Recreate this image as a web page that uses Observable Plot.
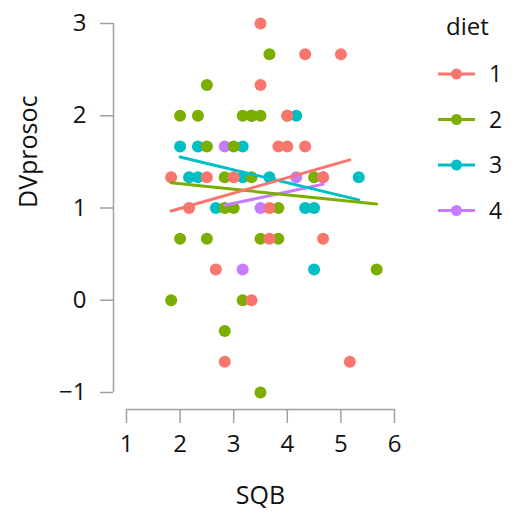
<!DOCTYPE html>
<html><head><meta charset="utf-8">
<script src="https://cdn.jsdelivr.net/npm/d3@7"></script>
<script src="https://cdn.jsdelivr.net/npm/@observablehq/plot@0.6"></script>
<style>
body{margin:0;background:#fff;}
#wrap{position:relative;width:516px;height:515px;font-family:"Open Sans",sans-serif;}
#legend{position:absolute;left:0;top:0;pointer-events:none;}
</style></head><body><div id="wrap"></div>
<script>
// ---- data ----
const diets = ["1", "2", "3", "4"];
const dietColors = ["#F8766D", "#7CAE00", "#00BFC4", "#C77CFF"];

const sqb1 = [3.5, 3.5, 4.333, 5, 4, 3.833, 4, 4.333, 1.833, 2.5, 3, 4.667, 2.167, 3.667, 3.667, 4.667, 2.667, 3.333, 2.833, 5.167];
const dv1  = [3, 2.333, 2.667, 2.667, 2, 1.667, 1.667, 1.667, 1.333, 1.333, 1.333, 1.333, 1, 1, 0.667, 0.667, 0.333, 0, -0.667, -0.667];

const sqb2 = [3.667, 2.5, 2, 2.333, 3.167, 3.333, 3.5, 2.5, 3, 2.833, 3.333, 4.5, 2.833, 3, 3.833, 2, 2.5, 3.5, 3.833, 5.667, 1.833, 3.167, 2.833, 3.5, 4, 3.333];
const dv2  = [2.667, 2.333, 2, 2, 2, 2, 2, 1.667, 1.667, 1.333, 1.333, 1.333, 1, 1, 1, 0.667, 0.667, 0.667, 0.667, 0.333, 0, 0, -0.333, -1, 2, 2];

const sqb3 = [4.167, 2, 2.333, 3.167, 2.167, 2.333, 3.167, 3.667, 5.333, 2.667, 4.333, 4.5, 4.5, 3.333];
const dv3  = [2, 1.667, 1.667, 1.667, 1.333, 1.333, 1.333, 1.333, 1.333, 1, 1, 1, 0.333, 2];

const sqb4 = [2.833, 3.167, 3.5, 4.167, 4.667];
const dv4  = [1.667, 0.333, 1, 1.333, 1.333];

const xTicks = [1, 2, 3, 4, 5, 6];
const yTicks = [-1, 0, 1, 2, 3];
const xLabel = "SQB";
const yLabel = "DVprosoc";
const legendTitle = "diet";

// ---- build table ----
const series = [[sqb1, dv1], [sqb2, dv2], [sqb3, dv3], [sqb4, dv4]];
const data = [];
[3, 2, 1, 0].forEach(i => series[i][0].forEach((x, j) =>
  data.push({SQB: x, DVprosoc: series[i][1][j], diet: diets[i]})));

const axisGrey = "#a0a0a0";
const fmt = d => d < 0 ? "\u2212" + Math.abs(d) : String(d);
const xMid = (xTicks[0] + xTicks[xTicks.length - 1]) / 2;
const yMid = (yTicks[0] + yTicks[yTicks.length - 1]) / 2;

const plot = Plot.plot({
  width: 516, height: 515,
  marginLeft: 113, marginRight: 122, marginTop: 23, marginBottom: 106,
  x: {domain: [xTicks[0], xTicks[xTicks.length - 1]], insetLeft: 13},
  y: {domain: [yTicks[0], yTicks[yTicks.length - 1]], insetBottom: 17},
  color: {domain: diets, range: dietColors},
  style: {fontFamily: "'Open Sans', sans-serif", fontSize: "24px", color: "#111", background: "white", overflow: "visible"},
  marks: [
    Plot.ruleY([yTicks[0]], {x1: xTicks[0], x2: xTicks[xTicks.length - 1], dy: 17, stroke: axisGrey, strokeWidth: 1.5}),
    Plot.ruleX([xTicks[0]], {y1: yTicks[0], y2: yTicks[yTicks.length - 1], dx: -13, stroke: axisGrey, strokeWidth: 1.5}),
    Plot.axisX({ticks: xTicks, tickSize: 14, tickPadding: 11, stroke: axisGrey, strokeWidth: 1.5, label: null, fill: "#111", tickFormat: fmt}),
    Plot.axisY({ticks: yTicks, tickSize: 13, tickPadding: 14, stroke: axisGrey, strokeWidth: 1.5, label: null, fill: "#111", tickFormat: fmt}),
    Plot.dot(data, {x: "SQB", y: "DVprosoc", fill: "diet", r: 6}),
    Plot.linearRegressionY(data, {x: "SQB", y: "DVprosoc", stroke: "diet", ci: 0, strokeWidth: 3}),
    Plot.text([xLabel], {x: xMid, frameAnchor: "bottom", dy: 86, lineAnchor: "middle", fill: "#111", fontSize: 25}),
    Plot.text([yLabel], {y: yMid, frameAnchor: "left", dx: -85, rotate: -90, lineAnchor: "middle", fill: "#111", fontSize: 25})
  ]
});
const wrap = document.getElementById("wrap");
wrap.appendChild(plot);

// ---- legend ----
const lg = d3.select(wrap).append("svg").attr("id", "legend").attr("width", 516).attr("height", 515)
  .style("font-family", "'Open Sans', sans-serif");
lg.append("text").attr("x", 446).attr("y", 35).attr("font-size", 24).attr("fill", "#111").text(legendTitle);
diets.forEach((d, i) => {
  const cy = 74 + i * 45.5;
  const g = lg.append("g");
  g.append("line").attr("x1", 438).attr("x2", 475).attr("y1", cy).attr("y2", cy)
    .attr("stroke", dietColors[i]).attr("stroke-width", 2.8);
  g.append("circle").attr("cx", 456.5).attr("cy", cy).attr("r", 5.5).attr("fill", dietColors[i]);
  g.append("text").attr("x", 489).attr("y", cy).attr("dy", "0.36em").attr("font-size", 23).attr("fill", "#111").text(d);
});
</script></body></html>
